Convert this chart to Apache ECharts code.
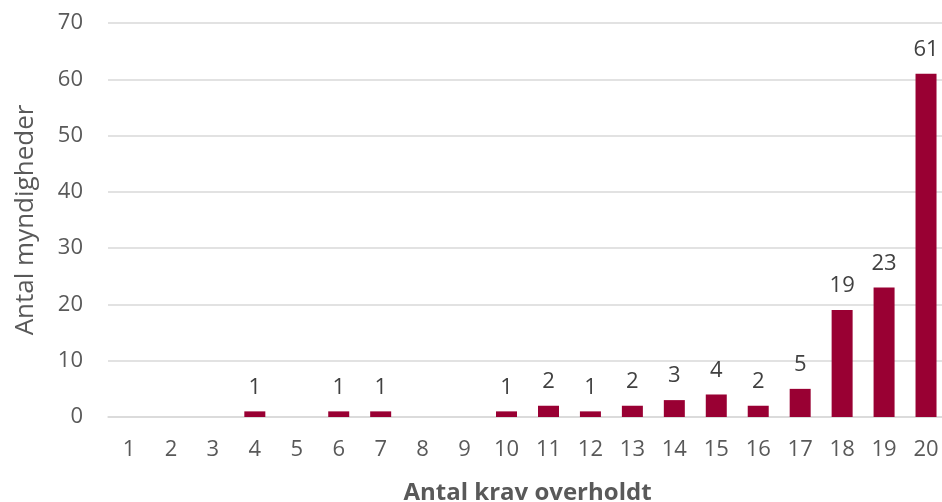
<!DOCTYPE html>
<html>
<head>
<meta charset="utf-8">
<script src="https://cdn.jsdelivr.net/npm/echarts@6/dist/echarts.min.js"></script>
<style>
html,body{margin:0;padding:0;background:#fff;}
#c{width:942px;height:502px;}
</style>
</head>
<body>
<div id="c"></div>
<script>
const categories = ['1','2','3','4','5','6','7','8','9','10','11','12','13','14','15','16','17','18','19','20'];
const values = [0,0,0,1,0,1,1,0,0,1,2,1,2,3,4,2,5,19,23,61];
const yTicks = { min: 0, max: 70, interval: 10 };
const xTitle = 'Antal krav overholdt';
const yTitle = 'Antal myndigheder';

const chart = echarts.init(document.getElementById('c'), null, { renderer: 'canvas' });
const txt = '#595959';
const font = 'Open Sans';
chart.setOption({
  animation: false,
  grid: { left: 108, top: 23, width: 839, height: 394, containLabel: false, outerBoundsMode: 'none' },
  xAxis: {
    type: 'category',
    data: categories,
    name: xTitle,
    nameLocation: 'middle',
    nameGap: 64,
    nameTextStyle: { color: txt, fontFamily: font, fontSize: 24, fontWeight: 'bold' },
    axisLine: { lineStyle: { color: '#d9d9d9', width: 1.5 } },
    axisTick: { show: false },
    axisLabel: { color: txt, fontFamily: font, fontSize: 22, margin: 22 }
  },
  yAxis: {
    type: 'value',
    min: yTicks.min, max: yTicks.max, interval: yTicks.interval,
    name: yTitle,
    nameLocation: 'middle',
    nameGap: 69,
    nameTextStyle: { color: txt, fontFamily: font, fontSize: 26 },
    axisLine: { show: false },
    axisTick: { show: false },
    splitLine: { lineStyle: { color: '#d9d9d9', width: 1.5 } },
    axisLabel: { color: txt, fontFamily: font, fontSize: 22, margin: 25 }
  },
  series: [{
    type: 'bar',
    data: values,
    barWidth: 21,
    itemStyle: { color: '#990033' },
    label: {
      show: true,
      position: 'top',
      distance: 13,
      color: '#404040',
      fontFamily: font,
      fontSize: 22,
      formatter: p => p.value > 0 ? String(p.value) : ''
    }
  }]
});
</script>
</body>
</html>
